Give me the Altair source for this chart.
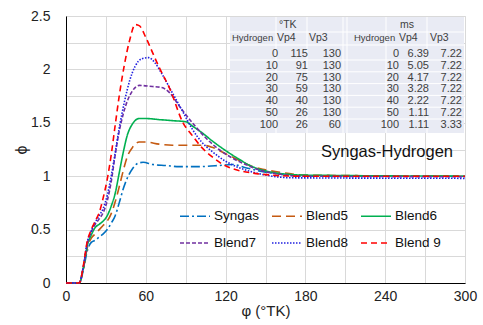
import altair as alt
import pandas as pd

FONT = "Liberation Sans"

# ---- curve data (x in °TK, y = phi) ----
syngas_x = [0, 10, 13, 16, 19, 22, 25, 28, 31, 34, 37, 40, 43, 46, 50, 54, 58, 65, 75, 85, 100, 115, 125, 135, 145, 160, 180, 200, 300]
syngas_y = [0, 0, 0.12, 0.30, 0.38, 0.40, 0.43, 0.46, 0.50, 0.56, 0.63, 0.75, 0.88, 0.98, 1.07, 1.12, 1.13, 1.11, 1.10, 1.09, 1.09, 1.10, 1.11, 1.08, 1.05, 1.02, 1.00, 1.00, 1.00]

b5_x = [0, 10, 13, 16, 19, 22, 25, 28, 31, 34, 37, 40, 43, 46, 50, 55, 60, 70, 80, 95, 103, 110, 120, 130, 140, 150, 165, 180, 300]
b5_y = [0, 0, 0.13, 0.33, 0.42, 0.46, 0.50, 0.54, 0.58, 0.65, 0.76, 0.90, 1.05, 1.18, 1.27, 1.32, 1.32, 1.30, 1.29, 1.29, 1.29, 1.27, 1.21, 1.15, 1.09, 1.06, 1.03, 1.01, 1.00]

b6_x = [0, 10, 13, 16, 19, 22, 25, 28, 31, 34, 37, 40, 43, 46, 50, 55, 60, 70, 80, 90, 95, 103, 110, 120, 130, 140, 150, 165, 180, 300]
b6_y = [0, 0, 0.14, 0.35, 0.45, 0.52, 0.55, 0.58, 0.63, 0.72, 0.84, 1.03, 1.22, 1.38, 1.49, 1.54, 1.54, 1.53, 1.52, 1.51, 1.47, 1.40, 1.33, 1.24, 1.16, 1.09, 1.05, 1.02, 1.01, 1.00]

b7_x = [0, 10, 13, 16, 19, 22, 25, 28, 31, 34, 37, 40, 43, 46, 50, 55, 65, 72, 78, 85, 95, 105, 115, 125, 135, 145, 160, 180, 300]
b7_y = [0, 0, 0.15, 0.37, 0.48, 0.55, 0.60, 0.66, 0.77, 0.95, 1.20, 1.42, 1.58, 1.70, 1.80, 1.85, 1.84, 1.83, 1.78, 1.66, 1.50, 1.36, 1.25, 1.17, 1.11, 1.06, 1.02, 1.00, 0.995]

b8_x = [0, 10, 13, 16, 19, 22, 25, 28, 31, 34, 37, 40, 44, 48, 52, 57, 62, 67, 72, 80, 88, 95, 102, 110, 120, 130, 140, 155, 170, 300]
b8_y = [0, 0, 0.15, 0.38, 0.49, 0.57, 0.63, 0.70, 0.82, 1.00, 1.22, 1.45, 1.70, 1.90, 2.03, 2.10, 2.11, 2.06, 1.96, 1.78, 1.60, 1.44, 1.32, 1.23, 1.14, 1.08, 1.04, 1.00, 0.985, 0.98]

b9_x = [0, 10, 13, 16, 19, 22, 25, 28, 31, 34, 37, 40, 44, 48, 52, 55, 60, 65, 70, 78, 88, 95, 102, 110, 118, 128, 140, 155, 175, 300]
b9_y = [0, 0, 0.16, 0.39, 0.50, 0.58, 0.66, 0.80, 0.97, 1.20, 1.48, 1.75, 2.05, 2.28, 2.42, 2.41, 2.30, 2.16, 2.02, 1.82, 1.50, 1.38, 1.27, 1.18, 1.11, 1.06, 1.03, 1.01, 1.00, 1.00]

series_names = ["Syngas", "Blend5", "Blend6", "Blend7", "Blend8", "Blend 9"]
series_colors = ["#0070C0", "#C55A11", "#00B050", "#7030A0", "#2020E0", "#FF0000"]
series_dash = [[9, 3, 2, 3], [9, 5], [1, 0], [4, 2], [1.5, 1.5], [6, 4]]
series_width = [1.6, 1.6, 2.0, 1.6, 1.6, 2.0]

# ---- table data ----
hydrogen = [0, 10, 20, 30, 40, 50, 100]
vp4_tk = [115, 91, 75, 59, 40, 26, 26]
vp3_tk = [130, 130, 130, 130, 130, 130, 60]
vp4_ms = ["6.39", "5.05", "4.17", "3.28", "2.22", "1.11", "1.11"]
vp3_ms = ["7.22", "7.22", "7.22", "7.22", "7.22", "7.22", "3.33"]

xs = [syngas_x, b5_x, b6_x, b7_x, b8_x, b9_x]
ys = [syngas_y, b5_y, b6_y, b7_y, b8_y, b9_y]
rows = []
for name, xx, yy in zip(series_names, xs, ys):
    for i, (a, b) in enumerate(zip(xx, yy)):
        rows.append({"series": name, "x": a, "y": b, "order": i})
df = pd.DataFrame(rows)

W, H = 399, 267

xaxis = alt.Axis(values=list(range(0, 301, 30)), labelExpr="datum.value % 60 == 0 ? datum.label : ''",
                 title="φ (°TK)", grid=True, gridColor="#d9d9d9", ticks=False, domainColor="#000000",
                 labelFlush=False,
                 labelFont=FONT, labelFontSize=14, labelColor="#222222", labelPadding=6,
                 titleFont=FONT, titleFontSize=15, titleFontWeight="normal", titleColor="#222222", titlePadding=0)
yaxis = alt.Axis(values=[i * 0.25 for i in range(11)], format="~g",
                 labelExpr="(datum.value*4) % 2 == 0 ? datum.label : ''",
                 title="ϕ", grid=True, gridColor="#d9d9d9", ticks=False, domainColor="#000000",
                 labelFlush=False,
                 labelFont=FONT, labelFontSize=14, labelColor="#222222", labelPadding=16,
                 titleFont=FONT, titleFontSize=16, titleFontWeight="normal", titleColor="#222222", titlePadding=1)

lines = alt.Chart(df).mark_line(interpolate="monotone").encode(
    x=alt.X("x:Q", scale=alt.Scale(domain=[0, 300], nice=False), axis=xaxis),
    y=alt.Y("y:Q", scale=alt.Scale(domain=[0, 2.5], nice=False), axis=yaxis),
    color=alt.Color("series:N", scale=alt.Scale(domain=series_names, range=series_colors),
                    legend=alt.Legend(title=None, orient="none", legendX=113, legendY=184, columns=3,
                                      direction="horizontal",
                                      symbolType="stroke", symbolSize=900, symbolStrokeWidth=1.8,
                                      labelFont=FONT, labelFontSize=13.5, labelColor="#111111",
                                      columnPadding=8, rowPadding=4, labelOffset=3)),
    strokeDash=alt.StrokeDash("series:N", scale=alt.Scale(domain=series_names, range=series_dash), legend=None),
    strokeWidth=alt.StrokeWidth("series:N", scale=alt.Scale(domain=series_names, range=series_width), legend=None),
    order="order:Q",
)

# ---- table overlay (pixel layout inside plot area) ----
row_y = [38 + i * 11.8 for i in range(7)]
cells = []
for i in range(7):
    cells += [
        {"t": str(hydrogen[i]), "px": 212, "py": row_y[i]},
        {"t": str(vp4_tk[i]), "px": 242, "py": row_y[i]},
        {"t": str(vp3_tk[i]), "px": 275, "py": row_y[i]},
        {"t": str(hydrogen[i]), "px": 333, "py": row_y[i]},
        {"t": vp4_ms[i], "px": 363, "py": row_y[i]},
        {"t": vp3_ms[i], "px": 396, "py": row_y[i]},
    ]
cells_df = pd.DataFrame(cells)
head = pd.DataFrame([
    {"t": "°TK", "px": 213, "py": 9},
    {"t": "ms", "px": 334, "py": 9},
    {"t": "Vp4", "px": 211, "py": 22},
    {"t": "Vp3", "px": 243, "py": 22},
    {"t": "Vp4", "px": 333, "py": 22},
    {"t": "Vp3", "px": 364, "py": 22},
])
head_h = pd.DataFrame([
    {"t": "Hydrogen", "px": 166, "py": 22},
    {"t": "Hydrogen", "px": 288, "py": 22},
])

bg = alt.Chart(pd.DataFrame([{"x1": 164, "x2": 398, "y1": 1, "y2": 117}])).mark_rect(color="#e9ebf4").encode(
    x=alt.X("x1:Q", scale=None), x2="x2:Q", y=alt.Y("y1:Q", scale=None), y2="y2:Q")

hsep = pd.DataFrame({"yy": [16, 29] + [44 + i * 11.8 for i in range(6)]})
hlines = alt.Chart(hsep).mark_rule(color="#ffffff", strokeWidth=1).encode(
    y=alt.Y("yy:Q", scale=None), x=alt.value(164), x2=alt.value(398))
vsep = pd.DataFrame({"xx": [210, 241, 277, 281, 320, 361]})
vlines = alt.Chart(vsep).mark_rule(color="#ffffff", strokeWidth=1).encode(
    x=alt.X("xx:Q", scale=None), y=alt.value(1), y2=alt.value(117))

nums = alt.Chart(cells_df).mark_text(align="right", baseline="middle", font=FONT, fontSize=11, color="#404040").encode(
    x=alt.X("px:Q", scale=None), y=alt.Y("py:Q", scale=None), text="t:N")
heads = alt.Chart(head).mark_text(align="left", baseline="middle", font=FONT, fontSize=10.5, color="#404040").encode(
    x=alt.X("px:Q", scale=None), y=alt.Y("py:Q", scale=None), text="t:N")
heads_h = alt.Chart(head_h).mark_text(align="left", baseline="middle", font=FONT, fontSize=9.5, color="#404040").encode(
    x=alt.X("px:Q", scale=None), y=alt.Y("py:Q", scale=None), text="t:N")

label = alt.Chart(pd.DataFrame([{"t": "Syngas-Hydrogen", "px": 321, "py": 136}])).mark_text(
    align="center", baseline="middle", font=FONT, fontSize=16.5, color="#111111").encode(
    x=alt.X("px:Q", scale=None), y=alt.Y("py:Q", scale=None), text="t:N")

chart = alt.layer(lines, bg, hlines, vlines, nums, heads, heads_h, label).properties(
    width=W, height=H,
    autosize=alt.AutoSizeParams(type="none"),
    padding={"left": 66, "top": 16, "right": 18, "bottom": 42},
).configure_view(stroke=None).configure(background="#ffffff")

chart.save("out.html", embed_options={"renderer": "svg", "actions": False})
